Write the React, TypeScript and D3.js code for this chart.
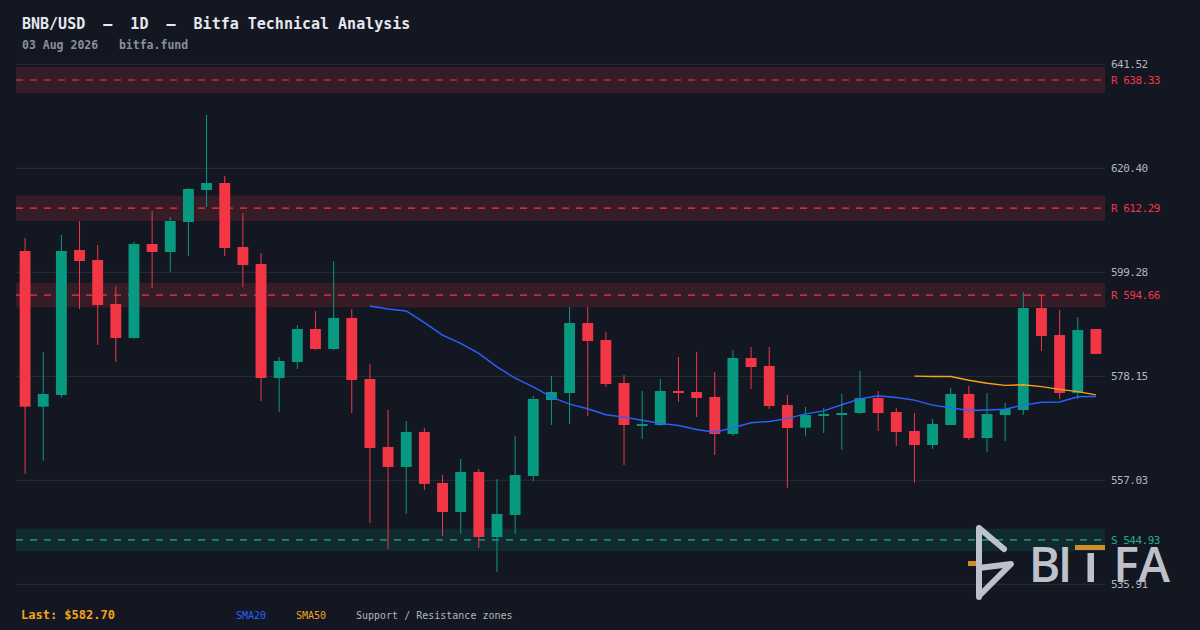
import React, { useEffect, useRef } from 'react';
import * as d3 from 'd3';

const opens = [
  603.6, 571.99, 574.36, 603.81, 601.78, 592.84, 585.94, 605.02, 603.4, 609.49,
  616.0, 617.41, 604.42, 600.96, 577.81, 581.06, 587.76, 583.7, 590.0, 577.61,
  563.8, 559.74, 566.85, 556.49, 550.6, 558.72, 545.52, 549.99, 557.91, 573.34,
  574.76, 588.97, 585.52, 576.79, 568.06, 568.26, 575.17, 574.96, 573.95, 566.43,
  581.87, 580.25, 572.32, 567.72, 570.09, 570.29, 570.7, 573.74, 570.9, 567.04,
  564.2, 568.26, 574.57, 565.62, 570.29, 571.31, 592.02, 586.53, 574.77, 587.76,
];
const highs = [
  606.24, 583.09, 606.85, 609.7, 604.82, 596.5, 605.43, 611.73, 610.51, 616.4,
  631.22, 618.84, 611.32, 603.2, 582.07, 588.56, 591.4, 601.57, 591.81, 580.66,
  571.31, 569.08, 567.66, 558.1, 561.36, 559.33, 557.3, 566.03, 574.16, 578.21,
  592.22, 592.22, 587.15, 578.41, 575.17, 577.6, 582.07, 583.11, 579.02, 583.49,
  584.1, 584.1, 574.37, 571.92, 571.71, 574.57, 579.23, 575.17, 571.71, 570.7,
  569.48, 575.77, 576.18, 574.77, 572.74, 595.27, 594.66, 591.61, 590.19, 587.76,
];
const lows = [
  558.38, 561.02, 573.81, 591.83, 584.51, 581.06, 585.8, 596.09, 599.34, 602.59,
  612.54, 602.59, 596.29, 573.14, 570.91, 579.64, 583.5, 583.5, 570.7, 548.36,
  543.08, 550.19, 555.05, 545.73, 546.13, 543.29, 538.41, 546.13, 556.9, 568.26,
  568.46, 570.09, 575.98, 560.14, 565.42, 568.06, 572.94, 569.88, 562.17, 566.03,
  575.57, 571.51, 555.47, 566.1, 566.65, 563.19, 570.49, 567.04, 564.0, 556.48,
  563.39, 568.26, 565.22, 562.78, 565.02, 570.29, 583.29, 573.55, 573.55, 582.7,
];
const closes = [
  571.99, 574.56, 603.6, 601.57, 592.64, 585.94, 605.02, 603.4, 609.7, 616.2,
  617.41, 604.21, 600.76, 577.81, 581.26, 587.76, 583.7, 590.0, 577.4, 563.6,
  559.74, 566.85, 556.29, 550.6, 558.72, 545.52, 550.19, 558.1, 573.55, 574.96,
  588.97, 585.32, 576.59, 568.26, 568.46, 575.17, 574.76, 573.74, 566.43, 581.87,
  580.04, 572.12, 567.65, 570.29, 570.49, 570.7, 573.74, 570.7, 566.84, 564.2,
  568.46, 574.57, 565.62, 570.49, 571.51, 592.02, 586.33, 574.77, 587.55, 582.7,
];

const yTicks = [535.91, 557.03, 578.15, 599.28, 620.4, 641.52];
const resistanceLevels = [638.33, 612.29, 594.66];
const supportLevels = [544.93];

const UP = '#089981';
const DOWN = '#f23645';
const BG = '#131722';
const MONO = "'DejaVu Sans Mono', monospace";

function sma(values: number[], n: number) {
  return values.map((_, i) => (i < n - 1 ? null : d3.mean(values.slice(i - n + 1, i + 1))!));
}

export default function App() {
  const svgRef = useRef<SVGSVGElement>(null);

  useEffect(() => {
    if (!svgRef.current) return;
    const svg = d3.select(svgRef.current);
    svg.selectAll('*').remove();

    const left = 16;
    const right = 1105;
    const idx = closes.map((_, i) => i);

    const x = d3.scaleBand<number>()
      .domain(idx)
      .range([left, right])
      .paddingInner(0.4)
      .paddingOuter(0.2);

    const y = d3.scaleLinear()
      .domain([yTicks[0], yTicks[yTicks.length - 1]])
      .range([584.3, 64.3]);

    const cx = (i: number) => x(i)! + x.bandwidth() / 2;

    svg.append('rect').attr('width', 1200).attr('height', 630).attr('fill', BG);

    // grid
    svg.append('g')
      .selectAll('line')
      .data(yTicks)
      .join('line')
      .attr('x1', left)
      .attr('x2', right)
      .attr('y1', d => y(d))
      .attr('y2', d => y(d))
      .attr('stroke', '#2a2e39')
      .attr('stroke-width', 1);

    // zones
    const zones = [
      ...resistanceLevels.map(v => ({ v, kind: 'R' })),
      ...supportLevels.map(v => ({ v, kind: 'S' })),
    ];
    const zg = svg.append('g');
    zones.forEach(z => {
      const col = z.kind === 'R' ? DOWN : '#22ab94';
      const fillCol = z.kind === 'R' ? DOWN : UP;
      zg.append('rect')
        .attr('x', left)
        .attr('width', right - left)
        .attr('y', y(z.v * 1.0042))
        .attr('height', y(z.v * 0.9958) - y(z.v * 1.0042))
        .attr('fill', fillCol)
        .attr('fill-opacity', z.kind === 'R' ? 0.16 : 0.15);
      zg.append('line')
        .attr('x1', left)
        .attr('x2', right)
        .attr('y1', y(z.v))
        .attr('y2', y(z.v))
        .attr('stroke', col)
        .attr('stroke-width', 1.2)
        .attr('stroke-dasharray', '7,7');
    });

    // candles
    const cg = svg.append('g');
    idx.forEach(i => {
      const o = opens[i], c = closes[i];
      const col = c >= o ? UP : DOWN;
      cg.append('line')
        .attr('x1', cx(i))
        .attr('x2', cx(i))
        .attr('y1', y(highs[i]))
        .attr('y2', y(lows[i]))
        .attr('stroke', col)
        .attr('stroke-width', 1);
      const top = y(Math.max(o, c));
      const h = Math.max(1, y(Math.min(o, c)) - top);
      cg.append('rect')
        .attr('x', x(i)!)
        .attr('y', top)
        .attr('width', x.bandwidth())
        .attr('height', h)
        .attr('fill', col);
    });

    // moving averages
    const maLine = d3.line<number | null>()
      .defined(d => d !== null)
      .x((_, i) => cx(i))
      .y(d => y(d as number));

    svg.append('path')
      .datum(sma(closes, 20))
      .attr('fill', 'none')
      .attr('stroke', '#2962ff')
      .attr('stroke-width', 1.4)
      .attr('d', maLine);

    svg.append('path')
      .datum(sma(closes, 50))
      .attr('fill', 'none')
      .attr('stroke', '#f7a21b')
      .attr('stroke-width', 1.4)
      .attr('d', maLine);

    // logo
    const logo = svg.append('g').attr('opacity', 0.9);
    logo.append('rect')
      .attr('x', 968).attr('y', 561).attr('width', 9).attr('height', 5)
      .attr('fill', '#e39a2a');
    logo.append('path')
      .attr('d', 'M979,528 L979,597 M979,528 L1004,549 M979,568 L1011,564 L979,596')
      .attr('fill', 'none')
      .attr('stroke', '#d1d4dc')
      .attr('stroke-width', 6)
      .attr('stroke-linecap', 'round')
      .attr('stroke-linejoin', 'round');
    const letters = [
      { t: 'B', x: 1044.5 },
      { t: 'I', x: 1065 },
      { t: 'F', x: 1126 },
      { t: 'A', x: 1154 },
    ];
    logo.selectAll('text.logo')
      .data(letters)
      .join('text')
      .attr('x', d => d.x)
      .attr('y', 582)
      .attr('text-anchor', 'middle')
      .attr('font-family', "'Open Sans', sans-serif")
      .attr('font-weight', 600)
      .attr('font-size', 48)
      .attr('fill', '#d1d4dc')
      .text(d => d.t);
    logo.append('rect')
      .attr('x', 1087.5).attr('y', 553).attr('width', 6.5).attr('height', 29)
      .attr('fill', '#d1d4dc');
    logo.append('rect')
      .attr('x', 1075).attr('y', 545).attr('width', 30).attr('height', 5)
      .attr('fill', '#e39a2a');

    // axis labels
    svg.append('g')
      .selectAll('text')
      .data(yTicks)
      .join('text')
      .attr('x', 1111)
      .attr('y', d => y(d) + 4)
      .attr('font-family', MONO)
      .attr('font-size', 11)
      .attr('letter-spacing', -0.5)
      .attr('fill', '#b2b5be')
      .text(d => d.toFixed(2));

    svg.append('g')
      .selectAll('text')
      .data(zones)
      .join('text')
      .attr('x', 1111)
      .attr('y', d => y(d.v) + 4)
      .attr('font-family', MONO)
      .attr('font-size', 11)
      .attr('letter-spacing', -0.5)
      .attr('fill', d => (d.kind === 'R' ? DOWN : '#22ab94'))
      .text(d => `${d.kind} ${d.v.toFixed(2)}`);

    // header
    svg.append('text')
      .attr('x', 22).attr('y', 29)
      .attr('font-family', MONO).attr('font-size', 15).attr('font-weight', 'bold')
      .attr('fill', '#e6e8ee')
      .style('white-space', 'pre')
      .text('BNB/USD  \u2013  1D  \u2013  Bitfa Technical Analysis');
    svg.append('text')
      .attr('x', 22).attr('y', 49)
      .attr('font-family', MONO).attr('font-size', 11.5).attr('font-weight', 'bold')
      .attr('fill', '#8b8f9a')
      .style('white-space', 'pre')
      .text('03 Aug 2026   bitfa.fund');

    // footer
    svg.append('text')
      .attr('x', 21).attr('y', 619)
      .attr('font-family', MONO).attr('font-size', 12).attr('font-weight', 'bold')
      .attr('fill', '#f7a21b')
      .text(`Last: $${closes[closes.length - 1].toFixed(2)}`);
    const legend = [
      { t: 'SMA20', x: 236, c: '#2962ff' },
      { t: 'SMA50', x: 296, c: '#f7a21b' },
      { t: 'Support / Resistance zones', x: 356, c: '#b2b5be' },
    ];
    svg.append('g')
      .selectAll('text')
      .data(legend)
      .join('text')
      .attr('x', d => d.x)
      .attr('y', 619)
      .attr('font-family', MONO)
      .attr('font-size', 10)
      .attr('fill', d => d.c)
      .text(d => d.t);
  }, []);

  return (
    <svg
      ref={svgRef}
      width={1200}
      height={630}
      style={{ position: 'fixed', left: 0, top: 0, display: 'block' }}
    />
  );
}
